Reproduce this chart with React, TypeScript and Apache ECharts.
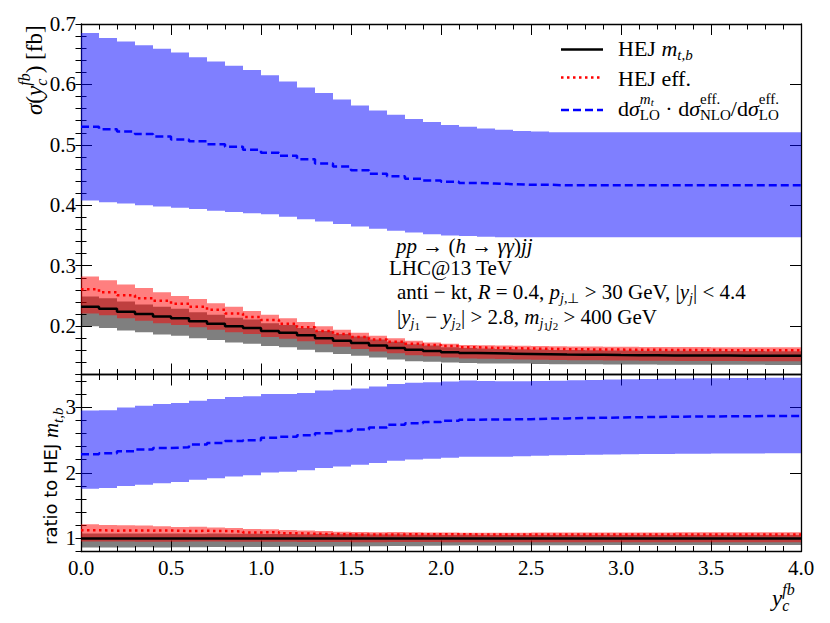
import React, { useEffect, useRef } from "react";
import * as echarts from "echarts";

// ---------------- data ----------------
const binEdges = [
  0.0, 0.1, 0.2, 0.3, 0.4, 0.5, 0.6, 0.7, 0.8, 0.9,
  1.0, 1.1, 1.2, 1.3, 1.4, 1.5, 1.6, 1.7, 1.8, 1.9,
  2.0, 2.1, 2.2, 2.3, 2.4, 2.5, 2.6, 2.7, 2.8, 2.9,
  3.0, 3.1, 3.2, 3.3, 3.4, 3.5, 3.6, 3.7, 3.8, 3.9, 4.0,
];

// HEJ m_{t,b}
const hejMtb = [
  0.232, 0.229, 0.224, 0.220, 0.216, 0.213, 0.208, 0.204, 0.200, 0.197,
  0.192, 0.189, 0.185, 0.180, 0.176, 0.172, 0.168, 0.164, 0.161, 0.159,
  0.157, 0.1555, 0.155, 0.1545, 0.154, 0.1535, 0.153, 0.1527, 0.1525, 0.1522,
  0.152, 0.1518, 0.1516, 0.1515, 0.1514, 0.1513, 0.1512, 0.1511, 0.151, 0.151,
];
const hejMtbLo = [
  0.200, 0.197, 0.193, 0.190, 0.186, 0.184, 0.180, 0.177, 0.173, 0.171,
  0.167, 0.165, 0.161, 0.157, 0.154, 0.151, 0.148, 0.145, 0.142, 0.141,
  0.140, 0.139, 0.138, 0.138, 0.138, 0.1375, 0.137, 0.137, 0.1368, 0.1366,
  0.1365, 0.1364, 0.1363, 0.1362, 0.1361, 0.136, 0.136, 0.136, 0.1359, 0.1359,
];
const hejMtbHi = [
  0.249, 0.246, 0.241, 0.236, 0.232, 0.229, 0.223, 0.219, 0.214, 0.211,
  0.205, 0.202, 0.197, 0.192, 0.187, 0.183, 0.178, 0.174, 0.170, 0.168,
  0.165, 0.164, 0.163, 0.1623, 0.1617, 0.1612, 0.1607, 0.1604, 0.1601, 0.1598,
  0.1596, 0.1594, 0.1592, 0.1591, 0.159, 0.1589, 0.1588, 0.1587, 0.1586, 0.1586,
];

// HEJ eff.
const hejEff = [
  0.261, 0.256, 0.251, 0.246, 0.242, 0.237, 0.232, 0.227, 0.221, 0.215,
  0.210, 0.204, 0.198, 0.192, 0.187, 0.182, 0.178, 0.174, 0.171, 0.169,
  0.167, 0.165, 0.164, 0.1635, 0.163, 0.1625, 0.162, 0.1617, 0.1614, 0.1612,
  0.161, 0.1608, 0.1606, 0.1605, 0.1604, 0.1603, 0.1602, 0.1601, 0.160, 0.160,
];
const hejEffLo = [
  0.221, 0.218, 0.213, 0.209, 0.205, 0.202, 0.198, 0.194, 0.190, 0.187,
  0.182, 0.179, 0.175, 0.170, 0.166, 0.162, 0.158, 0.155, 0.152, 0.150,
  0.148, 0.1465, 0.146, 0.1455, 0.145, 0.1445, 0.144, 0.1437, 0.1435, 0.1432,
  0.143, 0.1428, 0.1426, 0.1425, 0.1424, 0.1423, 0.1422, 0.1421, 0.142, 0.142,
];
const hejEffHi = [
  0.282, 0.276, 0.269, 0.263, 0.256, 0.250, 0.245, 0.238, 0.232, 0.225,
  0.219, 0.213, 0.207, 0.200, 0.194, 0.189, 0.184, 0.180, 0.176, 0.173,
  0.171, 0.169, 0.1685, 0.168, 0.1675, 0.167, 0.1667, 0.1664, 0.1662, 0.166,
  0.1658, 0.1656, 0.1655, 0.1654, 0.1653, 0.1652, 0.1651, 0.165, 0.165, 0.165,
];

// dσ_LO^{m_t} · dσ_NLO^{eff}/dσ_LO^{eff}
const rescaled = [
  0.530, 0.526, 0.522, 0.518, 0.514, 0.509, 0.506, 0.501, 0.497, 0.492,
  0.487, 0.482, 0.476, 0.469, 0.464, 0.458, 0.452, 0.448, 0.444, 0.441,
  0.439, 0.437, 0.436, 0.435, 0.434, 0.434, 0.433, 0.433, 0.433, 0.433,
  0.433, 0.433, 0.433, 0.433, 0.433, 0.433, 0.433, 0.433, 0.433, 0.433,
];
const rescaledLo = [
  0.408, 0.405, 0.403, 0.400, 0.398, 0.396, 0.394, 0.391, 0.389, 0.387,
  0.385, 0.381, 0.377, 0.373, 0.369, 0.365, 0.361, 0.358, 0.355, 0.352,
  0.350, 0.349, 0.348, 0.347, 0.347, 0.347, 0.347, 0.347, 0.347, 0.347,
  0.347, 0.347, 0.347, 0.347, 0.347, 0.347, 0.347, 0.347, 0.347, 0.347,
];
const rescaledHi = [
  0.685, 0.677, 0.671, 0.665, 0.659, 0.653, 0.645, 0.638, 0.631, 0.624,
  0.615, 0.605, 0.595, 0.586, 0.575, 0.565, 0.557, 0.550, 0.543, 0.538,
  0.533, 0.530, 0.527, 0.525, 0.523, 0.522, 0.521, 0.521, 0.521, 0.521,
  0.521, 0.521, 0.521, 0.521, 0.521, 0.521, 0.521, 0.521, 0.521, 0.521,
];

const xTickLabels = ["0.0", "0.5", "1.0", "1.5", "2.0", "2.5", "3.0", "3.5", "4.0"];
const yTopMajor = [0.2, 0.3, 0.4, 0.5, 0.6, 0.7];
const yRatioMajor = [1, 2, 3];

// ---------------- styling ----------------
const SERIF = "Liberation Serif, serif";
const SANS = "DejaVu Sans, sans-serif";
const BLUE_BAND = "rgba(0,0,255,0.5)";
const RED_BAND = "rgba(255,0,0,0.5)";
const GREY_BAND = "rgba(0,0,0,0.5)";

type Tok = {
  t?: string;
  it?: boolean;
  sz?: number;
  dy?: number;
  fam?: string;
  sub?: Tok[];
  sup?: Tok[];
};

function layoutToks(ctx: CanvasRenderingContext2D, toks: Tok[], base: number, x0 = 0): { els: any[]; w: number } {
  let x = x0;
  const els: any[] = [];
  for (const tk of toks) {
    if (tk.sub || tk.sup) {
      const a = tk.sub ? layoutToks(ctx, tk.sub, base, x) : { els: [], w: 0 };
      const b = tk.sup ? layoutToks(ctx, tk.sup, base, x) : { els: [], w: 0 };
      els.push(...a.els, ...b.els);
      x += Math.max(a.w, b.w);
      continue;
    }
    const sz = tk.sz ?? base;
    const fam = tk.fam ?? SERIF;
    const style = tk.it ? "italic" : "normal";
    ctx.font = `${style} ${sz}px ${fam}`;
    const w = ctx.measureText(tk.t || "").width;
    els.push({
      type: "text",
      x,
      y: tk.dy ?? 0,
      silent: true,
      style: {
        text: tk.t,
        fontSize: sz,
        fontFamily: fam,
        fontStyle: style,
        fill: "#000",
        textAlign: "left",
        textVerticalAlign: "middle",
        align: "left",
        verticalAlign: "middle",
      },
    });
    x += w;
  }
  return { els, w: x - x0 };
}

function mathGroup(ctx: CanvasRenderingContext2D, toks: Tok[], base: number, x: number, y: number, rotation = 0) {
  const { els } = layoutToks(ctx, toks, base, 0);
  return { type: "group", x, y, rotation, silent: true, children: els };
}

const S = 15; // script size
const sub = (t: string, it = true): Tok => ({ t, it, sz: S, dy: 7 });
const subA = (t: string, it = true): Tok => ({ t, it, sz: 14, dy: 6 });
const subsub = (t: string): Tok => ({ t, sz: 11, dy: 9 });

export default function App() {
  const ref = useRef<HTMLDivElement>(null);

  useEffect(() => {
    if (!ref.current) return;
    const chart = echarts.init(ref.current, null, { renderer: "svg" });
    const ctx = document.createElement("canvas").getContext("2d") as CanvasRenderingContext2D;

    const frame = { show: true, onZero: false, lineStyle: { color: "#000", width: 1.3 } };
    const tickLine = { color: "#000", width: 1 };

    const xAx = (gridIndex: number, position: string, labels: boolean) => ({
      type: "value",
      gridIndex,
      position,
      min: 0,
      max: 4,
      interval: 0.5,
      axisLine: frame,
      splitLine: { show: false },
      axisTick: { show: true, inside: true, length: 11, lineStyle: tickLine },
      minorTick: { show: true, splitNumber: 5, length: 5.5, lineStyle: tickLine },
      minorSplitLine: { show: false },
      axisLabel: labels
        ? {
            show: true,
            margin: 6,
            fontSize: 21,
            fontFamily: SERIF,
            color: "#000",
            showMinLabel: true,
            showMaxLabel: true,
            formatter: (v: number) => xTickLabels[Math.round(v * 2)] ?? "",
          }
        : { show: false },
    });

    const yMajor = (gridIndex: number, position: string, min: number, max: number, ticks: number[], labels: boolean, fmt: (v: number) => string) => ({
      type: "value",
      gridIndex,
      position,
      min,
      max,
      axisLine: frame,
      splitLine: { show: false },
      axisTick: { show: true, inside: true, length: 11, customValues: ticks, lineStyle: tickLine },
      axisLabel: labels
        ? { show: true, customValues: ticks, margin: 5, fontSize: 21, fontFamily: SERIF, color: "#000", formatter: fmt }
        : { show: false, customValues: ticks },
    });
    const yMinor = (gridIndex: number, position: string, min: number, max: number, interval: number) => ({
      type: "value",
      gridIndex,
      position,
      min,
      max,
      interval,
      axisLine: { show: false },
      splitLine: { show: false },
      axisLabel: { show: false },
      axisTick: { show: true, inside: true, length: 5.5, lineStyle: tickLine },
    });

    const band = (lo: number[], hi: number[], color: string, xi: number, yi: number, z: number) => ({
      type: "custom",
      xAxisIndex: xi,
      yAxisIndex: yi,
      clip: true,
      silent: true,
      z,
      data: lo.map((l, i) => [binEdges[i], binEdges[i + 1], l, hi[i]]),
      encode: { x: [0, 1], y: [2, 3] },
      renderItem: (_p: any, api: any) => {
        const a = api.coord([api.value(0), api.value(3)]);
        const b = api.coord([api.value(1), api.value(2)]);
        return {
          type: "rect",
          shape: { x: a[0], y: a[1], width: b[0] - a[0], height: b[1] - a[1] },
          style: { fill: color },
        };
      },
    });

    const stepLine = (vals: number[], color: string, dash: any, xi: number, yi: number) => ({
      type: "line",
      step: "end",
      xAxisIndex: xi,
      yAxisIndex: yi,
      symbol: "none",
      showSymbol: false,
      silent: true,
      clip: true,
      z: 5,
      data: binEdges.map((e, i) => [e, vals[Math.min(i, vals.length - 1)]]),
      lineStyle: { color, width: 2.5, type: dash, cap: "butt" },
    });

    const ratio = (arr: number[]) => arr.map((v, i) => v / hejMtb[i]);

    const DOT = [2.5, 3.5];
    const DASH = [8, 4];
    const LEG = 22;
    const ANN = 21;

    const graphics: any[] = [];
    // legend
    graphics.push({ type: "line", silent: true, shape: { x1: 561, y1: 49.5, x2: 603, y2: 49.5 }, style: { stroke: "#000", lineWidth: 2.5 } });
    graphics.push({ type: "line", silent: true, shape: { x1: 561, y1: 77.5, x2: 603, y2: 77.5 }, style: { stroke: "#ff0000", lineWidth: 2.5, lineDash: DOT } });
    graphics.push({ type: "line", silent: true, shape: { x1: 561, y1: 110, x2: 603, y2: 110 }, style: { stroke: "#0000ff", lineWidth: 2.5, lineDash: DASH } });
    graphics.push(mathGroup(ctx, [{ t: "HEJ " }, { t: "m", it: true }, sub("t,b")], LEG, 618, 48));
    graphics.push(mathGroup(ctx, [{ t: "HEJ eff." }], LEG, 618, 78));
    graphics.push(
      mathGroup(
        ctx,
        [
          { t: "d" },
          { t: "σ", it: true },
          { sub: [{ t: "LO", sz: S, dy: 7 }], sup: [{ t: "m", it: true, sz: S, dy: -9 }, { t: "t", it: true, sz: 11, dy: -6 }] },
          { t: " · d" },
          { t: "σ", it: true },
          { sub: [{ t: "NLO", sz: S, dy: 7 }], sup: [{ t: "eff.", sz: S, dy: -9 }] },
          { t: "/d" },
          { t: "σ", it: true },
          { sub: [{ t: "LO", sz: S, dy: 7 }], sup: [{ t: "eff.", sz: S, dy: -9 }] },
        ],
        LEG,
        618,
        108
      )
    );
    // annotation block
    graphics.push(
      mathGroup(ctx, [{ t: "pp", it: true }, { t: " → (" }, { t: "h", it: true }, { t: " → " }, { t: "γγ", it: true }, { t: ")" }, { t: "jj", it: true }], ANN, 396, 245.5)
    );
    graphics.push(mathGroup(ctx, [{ t: "LHC@13 TeV" }], ANN, 389, 268));
    graphics.push(
      mathGroup(
        ctx,
        [
          { t: "anti − kt, " },
          { t: "R", it: true },
          { t: " = 0.4, " },
          { t: "p", it: true },
          subA("j"),
          { t: ",⊥", sz: 14, dy: 6 },
          { t: " > 30 GeV, |" },
          { t: "y", it: true },
          subA("j"),
          { t: "| < 4.4" },
        ],
        ANN,
        397,
        292
      )
    );
    graphics.push(
      mathGroup(
        ctx,
        [
          { t: "|" },
          { t: "y", it: true },
          subA("j"),
          subsub("1"),
          { t: " − " },
          { t: "y", it: true },
          subA("j"),
          subsub("2"),
          { t: "| > 2.8, " },
          { t: "m", it: true },
          subA("j"),
          subsub("1"),
          subA("j"),
          subsub("2"),
          { t: " > 400 GeV" },
        ],
        ANN,
        397,
        317
      )
    );
    // axis titles
    graphics.push(
      mathGroup(
        ctx,
        [
          { t: "σ", it: true },
          { t: "(" },
          { t: "y", it: true },
          { sub: [{ t: "c", it: true, sz: 16, dy: 7 }], sup: [{ t: "fb", it: true, sz: 16, dy: -10 }] },
          { t: ")" },
          { t: " [fb]" },
        ],
        23,
        34,
        115,
        Math.PI / 2
      )
    );
    graphics.push(
      mathGroup(ctx, [{ t: "ratio to HEJ ", fam: SANS, sz: 18 }, { t: "m", it: true }, sub("t,b")], 21, 50.5, 545, Math.PI / 2)
    );
    graphics.push(
      mathGroup(
        ctx,
        [{ t: "y", it: true }, { sub: [{ t: "c", it: true, sz: 16, dy: 7 }], sup: [{ t: "fb", it: true, sz: 16, dy: -9 }] }],
        23,
        772,
        598
      )
    );

    const option: any = {
      animation: false,
      backgroundColor: "#fff",
      textStyle: { fontFamily: SERIF },
      grid: [
        { left: 81, right: 29, top: 24, height: 350.5 },
        { left: 81, right: 29, top: 374.5, height: 177 },
      ],
      xAxis: [xAx(0, "bottom", false), xAx(0, "top", false), xAx(1, "bottom", true), xAx(1, "top", false)],
      yAxis: [
        yMajor(0, "left", 0.12, 0.7, yTopMajor, true, (v) => v.toFixed(1)),
        yMinor(0, "left", 0.12, 0.7, 0.02),
        yMajor(0, "right", 0.12, 0.7, yTopMajor, false, (v) => v.toFixed(1)),
        yMinor(0, "right", 0.12, 0.7, 0.02),
        yMajor(1, "left", 0.8, 3.5, yRatioMajor, true, (v) => String(Math.round(v))),
        yMinor(1, "left", 0.8, 3.5, 0.2),
        yMajor(1, "right", 0.8, 3.5, yRatioMajor, false, (v) => String(Math.round(v))),
        yMinor(1, "right", 0.8, 3.5, 0.2),
      ],
      series: [
        band(rescaledLo, rescaledHi, BLUE_BAND, 0, 0, 1),
        band(hejMtbLo, hejMtbHi, GREY_BAND, 0, 0, 2),
        band(hejEffLo, hejEffHi, RED_BAND, 0, 0, 3),
        stepLine(hejMtb, "#000", "solid", 0, 0),
        stepLine(hejEff, "#ff0000", DOT, 0, 0),
        stepLine(rescaled, "#0000ff", DASH, 0, 0),

        band(ratio(rescaledLo), ratio(rescaledHi), BLUE_BAND, 2, 4, 1),
        band(ratio(hejMtbLo), ratio(hejMtbHi), GREY_BAND, 2, 4, 2),
        band(ratio(hejEffLo), ratio(hejEffHi), RED_BAND, 2, 4, 3),
        stepLine(ratio(hejMtb), "#000", "solid", 2, 4),
        stepLine(ratio(hejEff), "#ff0000", DOT, 2, 4),
        stepLine(ratio(rescaled), "#0000ff", DASH, 2, 4),
      ],
      graphic: { elements: graphics },
    };

    chart.setOption(option);
    return () => chart.dispose();
  }, []);

  return (
    <div
      ref={ref}
      style={{ position: "absolute", left: 0, top: 0, width: 830, height: 623, background: "#fff" }}
    />
  );
}
